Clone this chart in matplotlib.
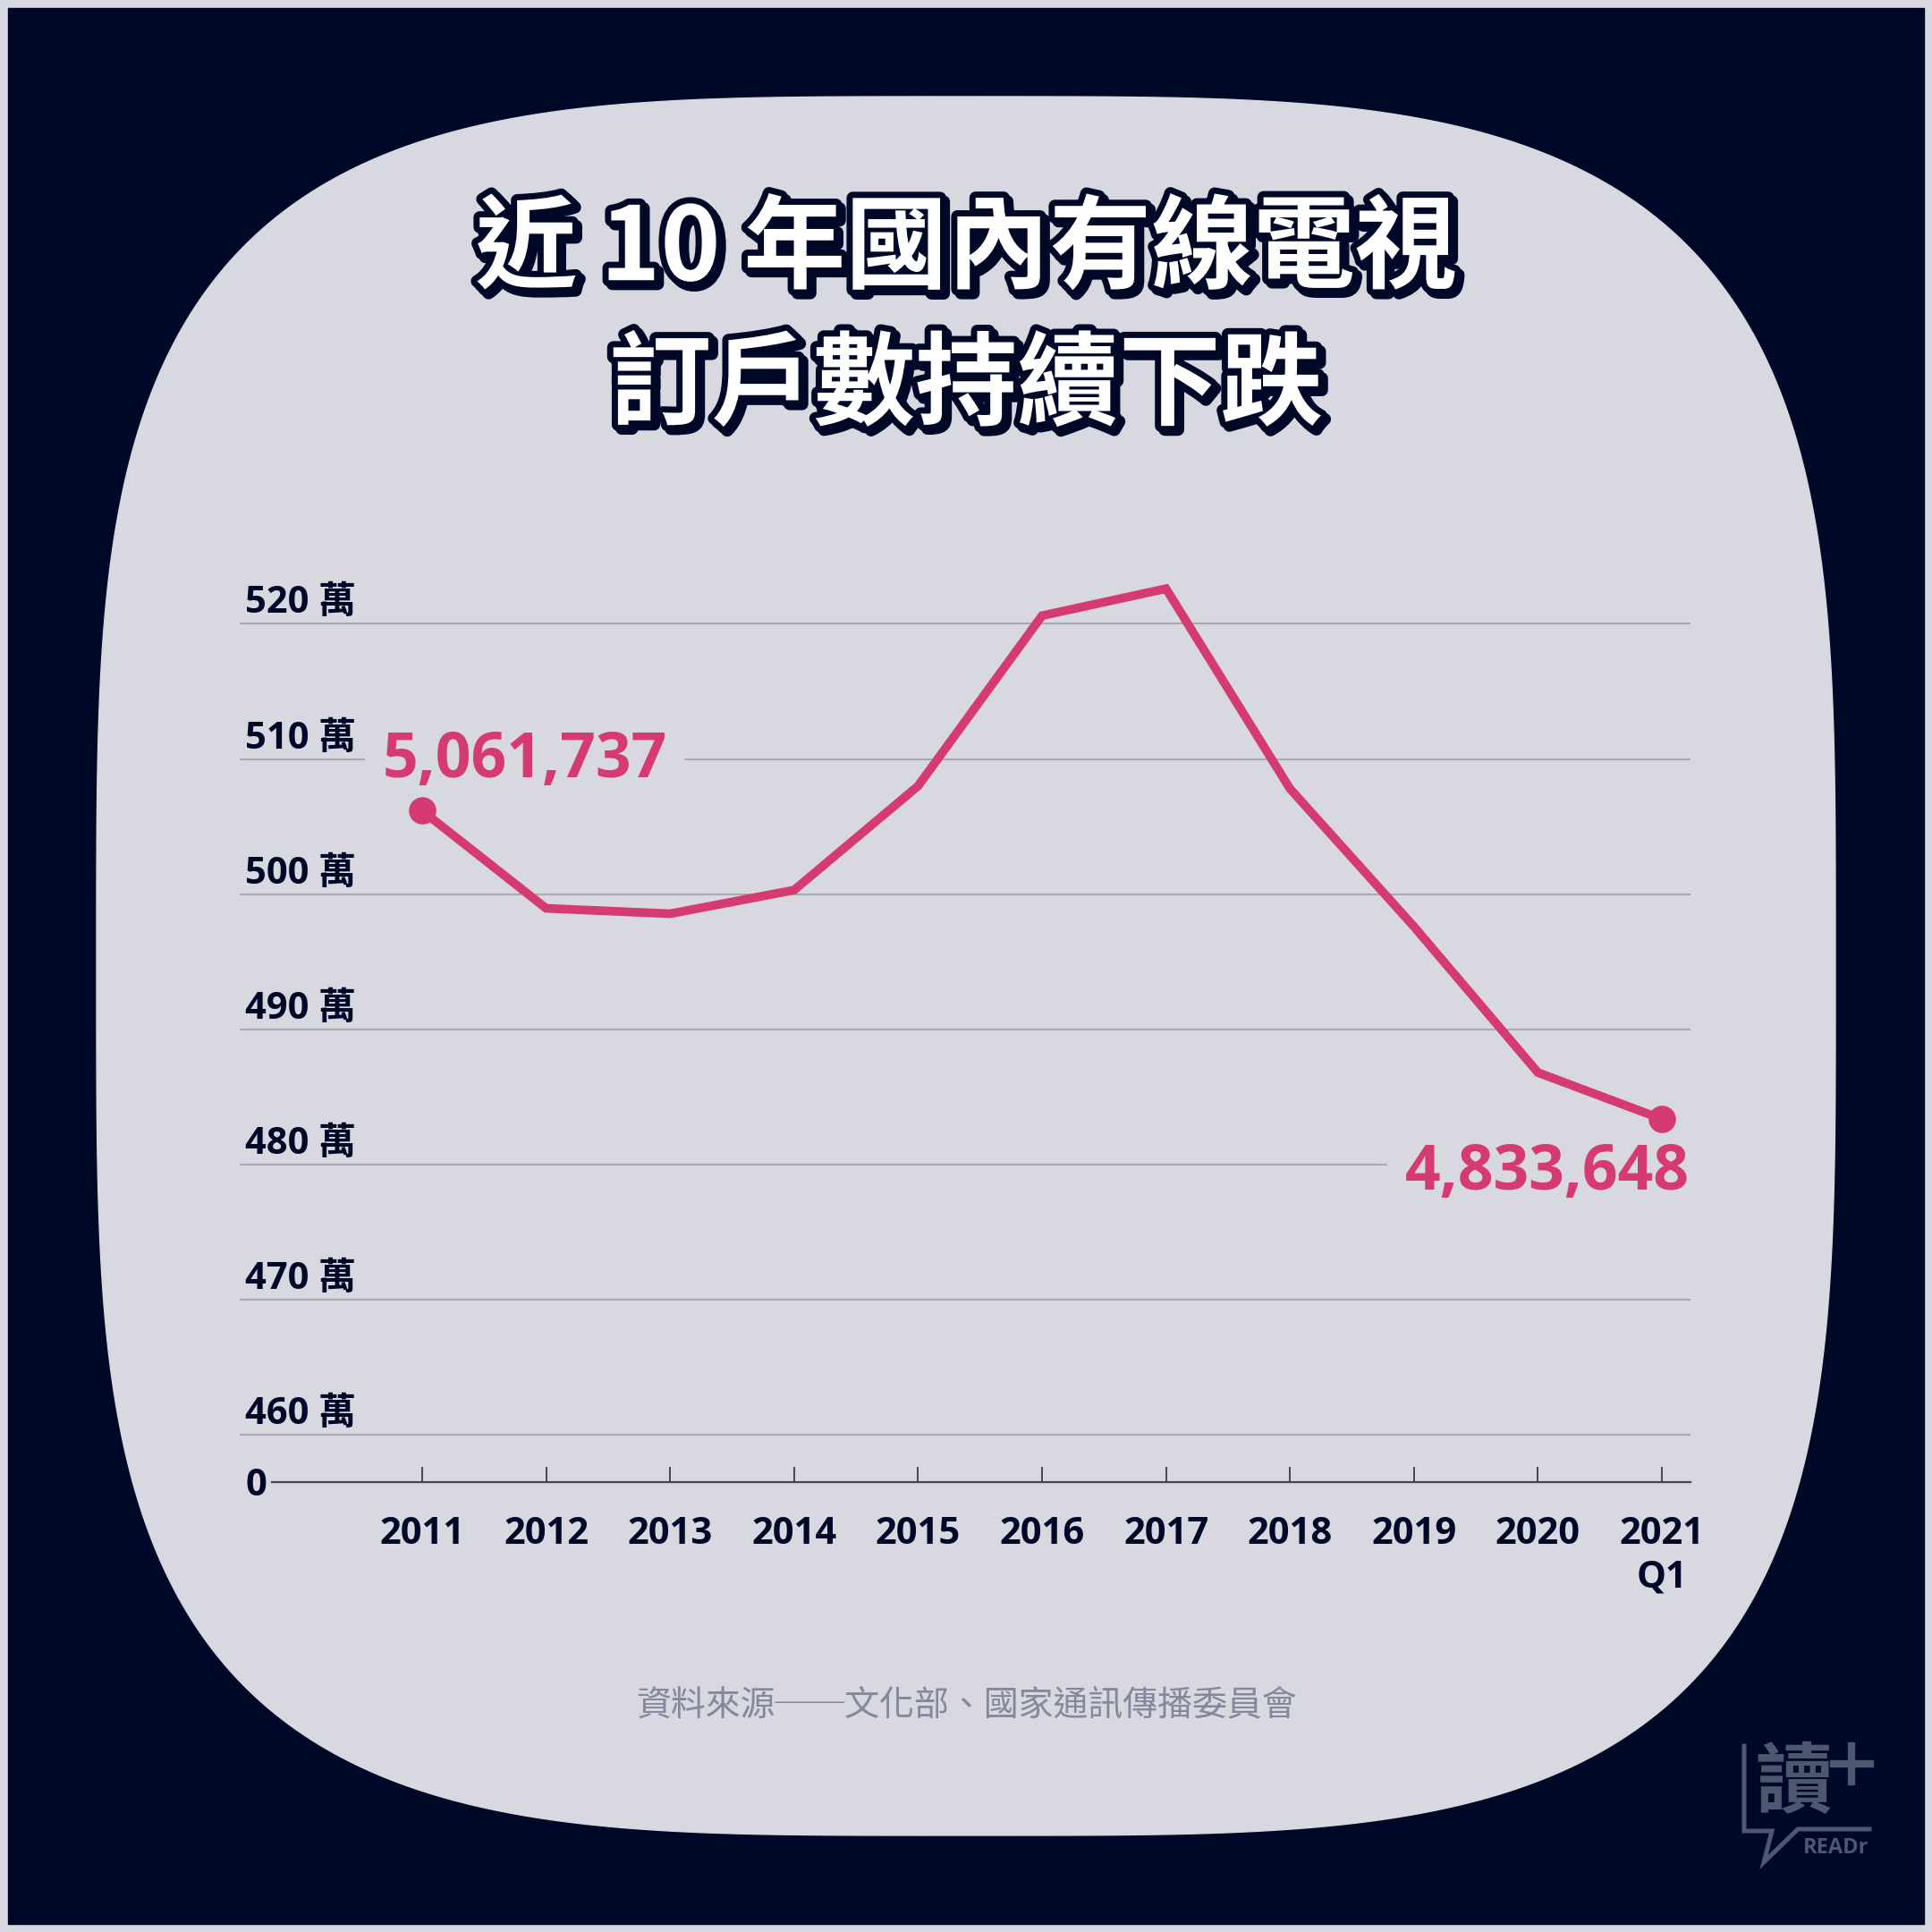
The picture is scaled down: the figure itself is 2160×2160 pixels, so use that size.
import matplotlib
matplotlib.use("Agg")
import matplotlib.pyplot as plt
import matplotlib.patheffects as pe
import matplotlib.transforms as mtransforms
import numpy as np

plt.rcParams["font.family"] = ["Open Sans", "Noto Sans CJK TC", "DejaVu Sans"]

# data (萬 subscribers)
years = ["2011", "2012", "2013", "2014", "2015", "2016", "2017", "2018", "2019", "2020", "2021\nQ1"]
subscribers = [506.17, 498.95, 498.55, 500.3, 508.0, 520.6, 522.6, 507.8, 497.6, 486.8, 483.36]
grid_values = [460, 470, 480, 490, 500, 510, 520]
first_label = "5,061,737"
last_label = "4,833,648"
title_lines = ["近 10 年國內有線電視", "訂戶數持續下跌"]
source = "資料來源──文化部、國家通訊傳播委員會"

navy = "#000828"
blob = "#d7d8e0"
pink = "#d53a73"
W = 2160

fig = plt.figure(figsize=(21.6, 21.6), dpi=100, facecolor=blob)

# background in pixel coordinates (y down)
bg = fig.add_axes([0, 0, 1, 1])
bg.set_xlim(0, W)
bg.set_ylim(W, 0)
bg.axis("off")
bg.add_patch(plt.Rectangle((9, 9), W - 18, W - 18, color=navy, zorder=0))
t = np.linspace(0, 2 * np.pi, 1000)
n = 3.7
a = 972
bx = 1080 + a * np.sign(np.cos(t)) * np.abs(np.cos(t)) ** (2 / n)
by = 1080 + a * np.sign(np.sin(t)) * np.abs(np.sin(t)) ** (2 / n)
bg.fill(bx, by, color=blob, zorder=1)

# title
title_fx = [pe.Stroke(linewidth=10, foreground=navy, offset=(3, -3)),
            pe.Stroke(linewidth=10, foreground=navy), pe.Normal()]
for i, line in enumerate(title_lines):
    bg.text(1080, 280 + i * 153, line, ha="center", va="center", fontsize=82,
            family=["Noto Sans CJK TC"], weight="black", color="white",
            path_effects=title_fx, zorder=5)

# source
bg.text(1080, 1906, source, ha="center", va="center", fontsize=28,
        family=["Noto Sans CJK TC"], weight="medium", color="#85889a", zorder=5)

# logo
logo = "#4f5670"
bg.plot([1950, 1950, 1981, 1972, 2010, 2090], [1952, 2047, 2047, 2082, 2045, 2045],
        color=logo, lw=3.6, solid_joinstyle="miter", zorder=5)
bg.text(2005, 1995, "讀", ha="center", va="center", fontsize=62,
        family=["Noto Sans CJK TC"], weight="bold", color=logo, zorder=5)
bg.plot([2050, 2091], [1972, 1972], color=logo, lw=6, zorder=5)
bg.plot([2070, 2070], [1952, 1992], color=logo, lw=6, zorder=5)
bg.text(2053, 2066, "READr", ha="center", va="center", fontsize=17,
        weight="bold", color=logo, zorder=5)

# chart axes
left_px, right_px, top_px, base_px = 268, 1890, 640, 1657
ax = fig.add_axes([left_px / W, (W - base_px) / W, (right_px - left_px) / W, (base_px - top_px) / W])
ax.set_facecolor("none")
for s in ax.spines.values():
    s.set_visible(False)
x = np.arange(len(years))
xstep = (1858 - 472) / 10
ax.set_xlim((left_px - 472) / xstep, (right_px - 472) / xstep)
ymin, ymax = 456.5, 523.8
ax.set_ylim(ymin, ymax)

for g in grid_values:
    ax.axhline(g, color="#a8a9b1", lw=1.5, zorder=1)
ax.axhline(ymin, xmin=(304 - left_px) / (right_px - left_px), xmax=1, color="#45464f", lw=1.6,
           zorder=2, clip_on=False)

ax.set_xticks(x)
ax.set_xticklabels(years, fontsize=30, weight="bold", color=navy, linespacing=1.25,
                   multialignment="center")
ax.tick_params(axis="x", direction="in", length=12, width=1.4, color="#45464f", pad=27)
ax.set_yticks([])

lab_trans = mtransforms.offset_copy(ax.get_yaxis_transform(), fig=fig, x=0, y=8.6, units="points")
x0 = (274 - left_px) / (right_px - left_px)
for g in grid_values:
    ax.text(x0, g, f"{g} 萬", transform=lab_trans, ha="left", va="baseline",
            fontsize=30, weight="bold", color=navy)
ax.text(x0, ymin, "0", transform=ax.get_yaxis_transform(), ha="left", va="center_baseline",
        fontsize=30, weight="bold", color=navy)

ax.plot(x, subscribers, color=pink, lw=7, solid_joinstyle="miter", zorder=4)
ax.plot([x[0], x[-1]], [subscribers[0], subscribers[-1]], "o", color=pink, ms=21, zorder=4)

box = dict(boxstyle="square,pad=0.28", fc=blob, ec="none")
ax.annotate(first_label, (x[0], subscribers[0]), xytext=(-32, 27), textcoords="offset points",
            ha="left", va="baseline", fontsize=50, weight="bold", color=pink, bbox=box, zorder=3)
ax.annotate(last_label, (x[-1], subscribers[-1]), xytext=(22, -57), textcoords="offset points",
            ha="right", va="baseline", fontsize=50, weight="bold", color=pink, bbox=box, zorder=3)

fig.savefig("out.png", dpi=100, facecolor=blob)
